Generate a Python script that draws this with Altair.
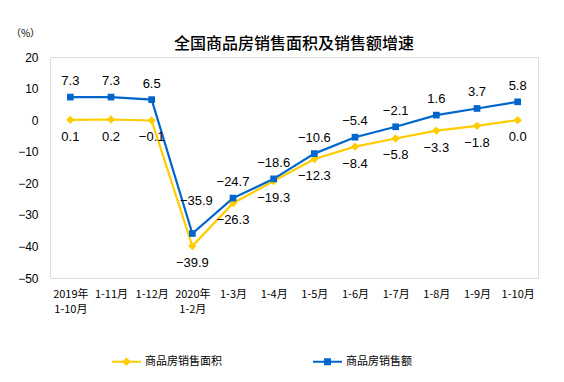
import altair as alt
import pandas as pd

categories = ["2019年\n1-10月", "1-11月", "1-12月", "2020年\n1-2月", "1-3月", "1-4月",
              "1-5月", "1-6月", "1-7月", "1-8月", "1-9月", "1-10月"]
area_growth = [0.1, 0.2, -0.1, -39.9, -26.3, -19.3, -12.3, -8.4, -5.8, -3.3, -1.8, 0.0]
amount_growth = [7.3, 7.3, 6.5, -35.9, -24.7, -18.6, -10.6, -5.4, -2.1, 1.6, 3.7, 5.8]
series_names = ["商品房销售面积", "商品房销售额"]
series_colors = ["#FFCC00", "#0066CC"]
y_ticks = [20, 10, 0, -10, -20, -30, -40, -50]

rows = []
for c, a, b in zip(categories, area_growth, amount_growth):
    rows.append({"cat": c, "series": series_names[0], "value": a})
    rows.append({"cat": c, "series": series_names[1], "value": b})
df = pd.DataFrame(rows)

CJK = "Noto Sans CJK SC"
LAT = "Liberation Sans"

x_enc = alt.X("cat:N", sort=categories,
              scale=alt.Scale(type="point", padding=0.5),
              axis=alt.Axis(title=None, labelAngle=0, domain=False, ticks=False,
                            labelFont=CJK, labelFontSize=11, labelColor="#000",
                            labelPadding=10, labelLineHeight=15, labelOverlap=False,
                            labelExpr="split(datum.label, '\\n')"))
y_enc = alt.Y("value:Q", scale=alt.Scale(domain=[-50, 20], nice=False, zero=False),
              axis=alt.Axis(values=y_ticks, grid=False, domain=False, ticks=False,
                            labelFont=LAT, labelFontSize=12, labelColor="#000",
                            labelPadding=12,
                            title="（%）", titleAngle=0, titleX=-25, titleY=-24,
                            titleAlign="center", titleBaseline="middle",
                            titleFont=CJK, titleFontSize=10, titleFontWeight="normal",
                            titleColor="#000"))

base = alt.Chart(df).encode(x=x_enc, y=y_enc)
area_base = base.transform_filter(alt.datum.series == series_names[0])
amount_base = base.transform_filter(alt.datum.series == series_names[1])

line_area = area_base.mark_line(strokeWidth=2.2, color=series_colors[0])
line_amount = amount_base.mark_line(strokeWidth=2.2, color=series_colors[1])

pts_area = area_base.mark_point(filled=True, shape="diamond", size=70, opacity=1,
                                color=series_colors[0])
pts_amount = amount_base.mark_point(filled=True, shape="square", size=45, opacity=1,
                                    color=series_colors[1])

lbl_amount = amount_base.transform_filter(alt.datum.value >= -30).mark_text(
    font=LAT, fontSize=13, baseline="middle", dy=-16, color="#000").encode(
    text=alt.Text("value:Q", format=".1f"))
lbl_amount_low = amount_base.transform_filter(alt.datum.value < -30).mark_text(
    font=LAT, fontSize=13, baseline="middle", dy=-32, dx=4, color="#000").encode(
    text=alt.Text("value:Q", format=".1f"))
lbl_area = area_base.mark_text(
    font=LAT, fontSize=13, baseline="middle", dy=17, color="#000").encode(
    text=alt.Text("value:Q", format=".1f"))

diamond_path = ("M-1,-0.07L1,-0.07L1,0.07L-1,0.07Z"
                "M0,-0.3L0.3,0L0,0.3L-0.3,0Z")
square_path = ("M-1,-0.07L1,-0.07L1,0.07L-1,0.07Z"
               "M-0.24,-0.24L0.24,-0.24L0.24,0.24L-0.24,0.24Z")

legend = alt.Legend(orient="none", legendX=62, legendY=290, direction="horizontal",
                    title=None, labelFont=CJK, labelFontSize=11, labelColor="#000",
                    symbolSize=841, symbolStrokeWidth=0, symbolOpacity=1,
                    labelOffset=4, columnPadding=91, padding=0)

legend_layer = base.mark_point(filled=True, opacity=0, size=841).encode(
    color=alt.Color("series:N", scale=alt.Scale(domain=series_names, range=series_colors),
                    legend=legend),
    shape=alt.Shape("series:N", scale=alt.Scale(domain=series_names,
                                                range=[diamond_path, square_path]),
                    legend=legend))

chart = alt.layer(line_area, line_amount, pts_area, pts_amount, lbl_amount,
                  lbl_amount_low, lbl_area, legend_layer).properties(
    width=488, height=221,
    title=alt.Title("全国商品房销售面积及销售额增速", font=CJK, fontSize=16,
                    fontWeight=500, color="#000", anchor="middle", offset=6, dy=30),
    autosize=alt.AutoSizeParams(type="none"),
    padding={"left": 42, "top": 49, "right": 18, "bottom": 96},
).configure_view(stroke="#BFBFBF", strokeWidth=1).configure(background="white")

chart.save("out.html", embed_options={"renderer": "svg", "actions": False})
